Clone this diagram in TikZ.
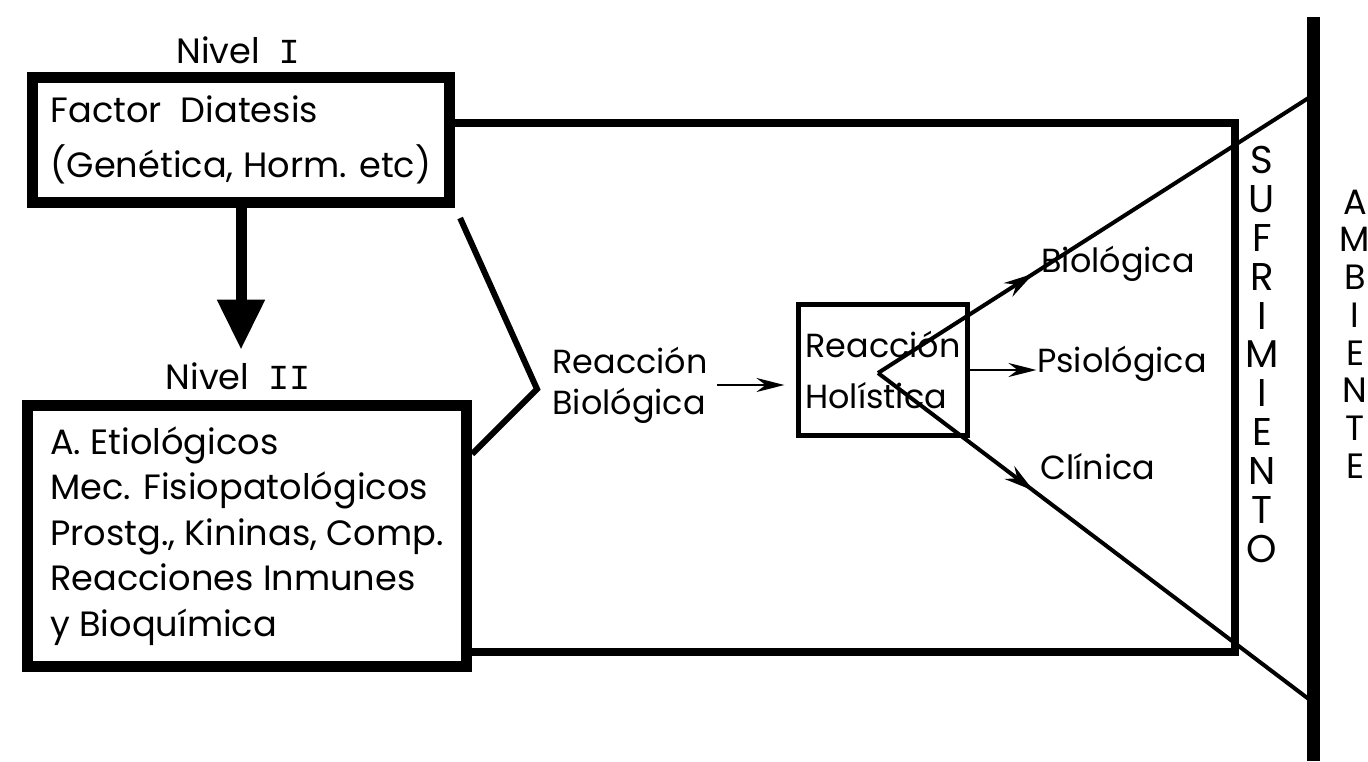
\documentclass[tikz,border=0pt]{standalone}
\usepackage{fontspec}
\setmainfont{Poppins}
\newfontfamily\numfont{Liberation Mono}
\usetikzlibrary{arrows.meta, decorations.markings}

\begin{document}
\begin{tikzpicture}[x=0.01cm, y=-0.01cm]
	\tikzstyle{level_box} = [draw, line width=0.11cm, inner sep=0pt, align=left, font=\fontsize{10}{15.6}\selectfont]
	\tikzstyle{word} = [inner sep=0pt, align=left, font=\fontsize{9.5}{11.7}\selectfont]
	\tikzstyle{letter} = [inner sep=0pt, font=\fontsize{11}{13}\selectfont]
	\tikzstyle{thin_arrow} = [line width=0.025cm, -{Stealth[length=0.28cm, width=0.14cm]}]
	\tikzstyle{mid_arrow} = [line width=0.04cm, decoration={markings,mark=at position 0.36 with {\arrow{Stealth[length=0.3cm, width=0.16cm]}}},postaction={decorate}]
	\useasboundingbox (0,0) rectangle (1368,761);
	% Level boxes
	\node[level_box, minimum width=4.17cm, minimum height=1.25cm] (diat) at (241,140) {Factor \ Diatesis\\(Genética, Horm. etc)};
	\node[level_box, minimum width=4.39cm, minimum height=2.61cm, font=\fontsize{10}{12.9}\selectfont] (etio) at (247,536) {A. Etiológicos\\Mec. Fisiopatológicos\\Prostg., Kininas, Comp.\\Reacciones Inmunes\\y Bioquímica};
	% Level titles
	\node[word, font=\fontsize{10}{12}\selectfont] (niv1) at (238,50) {Nivel \ {\numfont I}};
	\node[word, font=\fontsize{10}{12}\selectfont] (niv2) at (238,376) {Nivel \ {\numfont II}};
	
	% Level arrow
	\draw[line width=0.11cm, -{Triangle[length=0.5cm, width=0.45cm]}, shorten >=0.12cm] (diat.south) -- (diat.south |- niv2.north);
	
	% Frame
	\coordinate (fr_ne) at (1235,123);
	\coordinate (fr_se) at (1235,652);
	\draw[line width=0.08cm] (diat.east |- fr_ne) -- (fr_ne) -- (fr_se) -- (etio.east |- fr_se);
	
	% Bracket
	\coordinate (brk) at (537,389);
	\draw[line width=0.06cm] ([xshift=0.05cm, yshift=-0.1cm]diat.south east) -- (brk) -- ([yshift=-0.54cm]etio.north east);
	
	% Reaction nodes
	\node[word] (rbio) at (630,385) {Reacción\\Biológica};
	\node[draw, line width=0.05cm, minimum width=1.68cm, minimum height=1.30cm, inner sep=0pt, align=left, font=\fontsize{9.5}{14.5}\selectfont] (holi) at (883,370) {Reacción\\Holística};
	\draw[thin_arrow, shorten >=0.12cm] ([xshift=0.09cm]rbio.east) -- (rbio.east -| holi.west);
	
	% Outcomes
	\node[word] (biol) at (1118,264) {Biológica};
	\node[word] (psio) at (1122,364) {Psiológica};
	\node[word] (clin) at (1098,467) {Clínica};
	\coordinate (vtx) at (878,373);
	\coordinate (amb_top) at (1313,17);
	\coordinate (amb_bot) at (1313,761);
	\coordinate (amb_u) at (1310,97);
	\coordinate (amb_l) at (1310,700);
	\draw[mid_arrow] (vtx) -- (amb_u);
	\draw[mid_arrow] (vtx) -- (amb_l);
	\draw[thin_arrow] (holi.east) -- (holi.east -| psio.west);
	
	% Ambiente wall
	\draw[line width=0.13cm] (amb_top) -- (amb_bot);
	
	% Vertical words
	\foreach \l [count=\i] in {S,U,F,R,I,M,I,E,N,T,O}
		\node[letter] (suf\i) at (1262, {160+(\i-1)*38.9}) {\l};
	\foreach \l [count=\i] in {A,M,B,I,E,N,T,E}
		\node[letter, font=\fontsize{10}{12}\selectfont] (amb\i) at (1355, {202+(\i-1)*37.7}) {\l};
\end{tikzpicture}
\end{document}
